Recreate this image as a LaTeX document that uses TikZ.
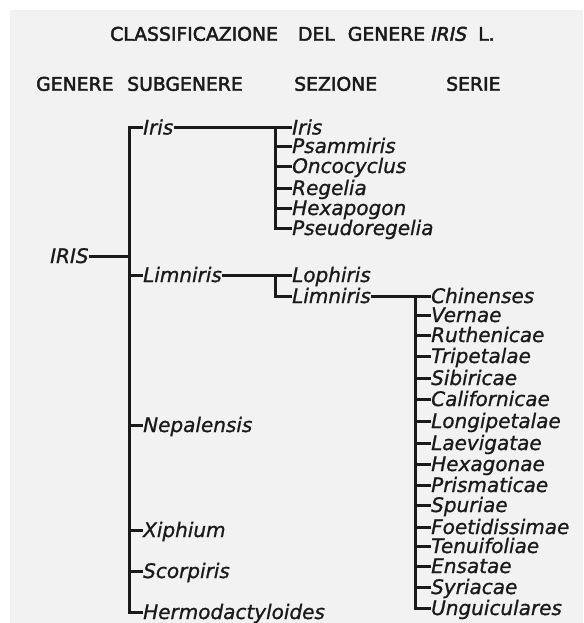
\documentclass[tikz,border=0pt]{standalone}
\usepackage{fontspec}
\setmainfont{DejaVu Sans}
\newfontfamily\labfont{DejaVu Sans}[FakeBold=1]
\newfontfamily\hdfont{DejaVu Sans}[FakeBold=2.5]
\definecolor{ink}{HTML}{1A1A1A}
\definecolor{bg}{HTML}{F2F2F2}
\begin{document}
\begin{tikzpicture}[x=1pt,y=-1pt,
  lab/.style={anchor=west, inner sep=0pt, text height=14pt, text depth=0pt,
    font=\labfont\fontsize{20}{24}\selectfont\itshape, text=ink},
  hd/.style={anchor=west, inner sep=0pt, text height=14.5pt, text depth=0pt,
    font=\hdfont\fontsize{18.8}{22}\selectfont, text=ink},
  ln/.style={draw=ink, line width=3pt}]
\useasboundingbox (0,0) rectangle (583,623);
\fill[white] (0,0) rectangle (583,623);
\fill[bg] (10,10) rectangle (583,623);
% title and headers
\node[hd] (title) at (110,33.5) {CLASSIFICAZIONE\hspace{20pt}DEL\hspace{13pt}GENERE \textit{IRIS}\hspace{11pt}L.};
\node[hd] (h1) at (36,83.5) {GENERE};
\node[hd] (h2) at (127,83.5) {SUBGENERE};
\node[hd] (h3) at (294,83.5) {SEZIONE};
\node[hd] (h4) at (446,83.5) {SERIE};
% genus
\node[lab] (genus) at (50,256) {IRIS};
% subgenera
\foreach \t/\y [count=\i] in {Iris/127.5, Limniris/275, Nepalensis/425, Xiphium/530, Scorpiris/571, Hermodactyloides/612}
  \node[lab] (s\i) at (143,\y) {\t};
% sections of Iris
\foreach \t/\y [count=\i] in {Iris/127.5, Psammiris/146, Oncocyclus/166, Regelia/188, Hexapogon/208, Pseudoregelia/228}
  \node[lab] (e\i) at (292,\y) {\t};
% sections of Limniris
\node[lab] (f1) at (292,275) {Lophiris};
\node[lab] (f2) at (292,296) {Limniris};
% series
\foreach \t/\y [count=\i] in {Chinenses/296, Vernae/315, Ruthenicae/335, Tripetalae/356, Sibiricae/378, Californicae/399, Longipetalae/421, Laevigatae/443, Hexagonae/464, Prismaticae/485, Spuriae/505, Foetidissimae/527, Tenuifoliae/546, Ensatae/566, Syriacae/587, Unguiculares/608}
  \node[lab] (g\i) at (431,\y) {\t};
\coordinate (tx) at (129,0);
\coordinate (sx) at (275,0);
\coordinate (gx) at (415,0);
% connectors: genus to subgenera
\draw[ln] (genus.east) -- (tx |- genus.east);
\draw[ln] (s1.west) -| (tx |- s6.west) -- (s6.west);
\foreach \i in {2,...,5} \draw[ln] (tx |- s\i.west) -- (s\i.west);
% Iris sections
\draw[ln] (s1.east) -- (e1.west);
\draw[ln] (sx |- e1.west) |- (e6.west);
\foreach \i in {2,...,5} \draw[ln] (sx |- e\i.west) -- (e\i.west);
% Limniris sections
\draw[ln] (s2.east) -- (f1.west);
\draw[ln] (sx |- f1.west) |- (f2.west);
% series
\draw[ln] (f2.east) -- (g1.west);
\draw[ln] (gx |- g1.west) |- (g16.west);
\foreach \i in {2,...,15} \draw[ln] (gx |- g\i.west) -- (g\i.west);
\end{tikzpicture}
\end{document}
